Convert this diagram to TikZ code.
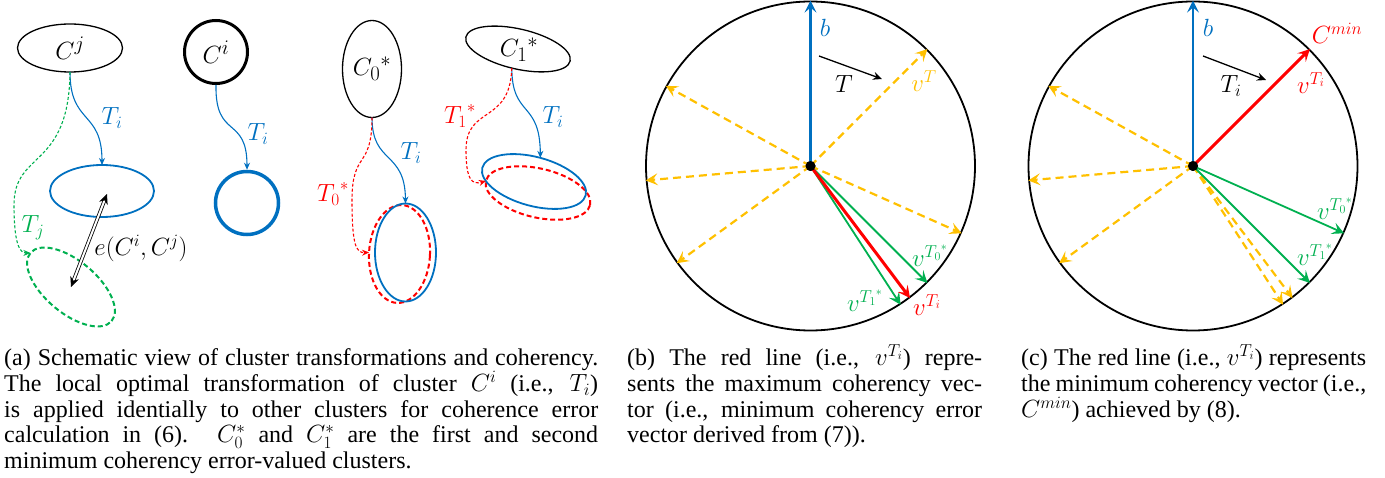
\documentclass[tikz,border=0pt]{standalone}
\usepackage{fontspec}
\setmainfont{Liberation Serif}
\usetikzlibrary{arrows.meta,shapes.geometric,calc}
\definecolor{oblue}{HTML}{0070C0}
\definecolor{ogreen}{HTML}{00B050}
\definecolor{ored}{HTML}{FF0000}
\definecolor{oorange}{HTML}{FFC000}
\newcommand{\captset}{\hyphenpenalty=10000\relax\tolerance=10000\relax}
\begin{document}
\begin{tikzpicture}[x=1pt,y=-1pt,
  ell/.style={draw, ellipse, inner sep=0pt, outer sep=0pt},
  lab/.style={inner sep=0pt, font=\fontsize{23}{23}\selectfont},
  vlab/.style={inner sep=0pt, font=\fontsize{24}{24}\selectfont},
  big/.style={inner sep=0pt, font=\fontsize{31}{31}\selectfont},
  conn/.style={line width=1.1pt, -{Stealth[length=7pt,width=6pt]}},
  dconn/.style={conn, dash pattern=on 3pt off 2pt},
  dell/.style={ell, line width=2pt, dash pattern=on 5pt off 3pt},
  vec/.style={line width=2.2pt, -{Stealth[length=12pt,width=12pt,inset=5pt]}},
  ovec/.style={vec, oorange, dash pattern=on 8pt off 5pt},
  captxt/.style={inner sep=0pt, align=justify, anchor=base west,
    font=\fontsize{24}{25.6}\selectfont}
]
\useasboundingbox (0,0) rectangle (1385,478);

% ---------- panel (a) ----------
\node[ell, big, line width=1.3pt, minimum width=105pt, minimum height=48pt] (cj) at (70,48) {$C^j$};
\node[circle, draw, line width=3pt, minimum size=63pt, inner sep=0pt, big] (ci) at (216,52) {$C^i$};
\node[ell, draw=oblue, line width=1.8pt, minimum width=104pt, minimum height=52pt] (ea) at (102,191) {};
\node[dell, draw=ogreen, minimum width=106pt, minimum height=52pt, rotate=-40] (ga) at (71,287) {};
\node[circle, draw=oblue, line width=3.5pt, minimum size=63pt, inner sep=0pt] (cb) at (247,203) {};

\draw[conn, oblue] (cj.south) .. controls (70,125) and (102,110) .. (ea.north);
\node[lab, text=oblue] (lti1) at (112,118) {$T_i$};
\draw[dconn, ogreen] (cj.south) .. controls (69,170) and (14,150) .. (14,205)
  .. controls (14,245) and (20,253) .. (ga.west);
\node[lab, text=ogreen] (ltj) at (33,228) {$T_j$};
\draw[line width=0.8pt, double, double distance=2pt,
  {Stealth[length=10pt,width=9pt]}-{Stealth[length=10pt,width=9pt]}]
  ([shift={(5,3)}]ea.center) -- (ga.center);
\node[lab] (le) at (141,248) {$e(C^i,C^j)$};

\draw[conn, oblue] (ci.south) .. controls (215,140) and (247,115) .. (cb.north);
\node[lab, text=oblue] (lti2) at (258,134) {$T_i$};

\node[ell, big, line width=1.3pt, minimum width=59pt, minimum height=97pt] (c0) at (372,69) {${C_0}^{*}$};
\node[ell, line width=1.3pt, minimum width=107pt, minimum height=40pt, rotate=-13] (c1) at (518,49) {};
\node[big] (lc1) at (519,50) {${C_1}^{*}$};

\node[dell, draw=ored, minimum width=61pt, minimum height=98pt, rotate=-3] (r0) at (399.5,254) {};
\node[ell, draw=oblue, line width=1.8pt, minimum width=61pt, minimum height=98pt] (e0) at (405.5,252.5) {};
\node[dell, draw=ored, minimum width=107pt, minimum height=49pt, rotate=-13] (r1) at (538,193) {};
\node[ell, draw=oblue, line width=1.8pt, minimum width=107pt, minimum height=49pt, rotate=-15] (e1) at (534,181.5) {};

\draw[conn, oblue] (c0.south) .. controls (372,165) and (405,150) .. (e0.north);
\node[lab, text=oblue] (lti3) at (411,153) {$T_i$};
\draw[dconn, ored] (c0.south) .. controls (372,170) and (352,150) .. (352,200)
  .. controls (352,245) and (356,253) .. (r0.west);
\node[lab, text=ored] (lt0) at (333,194) {${T_0}^{*}$};

\draw[conn, oblue] (c1.265) .. controls (512,118) and (540,100) .. (e1.north);
\node[lab, text=oblue] (lti4) at (553,117) {$T_i$};
\draw[dconn, ored] (c1.265) .. controls (510,125) and (466,105) .. (466,150)
  .. controls (466,180) and (472,185) .. (r1.west);
\node[lab, text=ored] (lt1) at (460,116) {${T_1}^{*}$};

% ---------- panel (b) ----------
\node[circle, draw, line width=1.8pt, minimum size=329pt, inner sep=0pt] (wb) at (810.5,166) {};
\node[circle, fill, inner sep=0pt, minimum size=10pt] (ob) at (810.5,166) {};
\foreach \a in {45,151,185,216,336} \draw[ovec] (ob.center) -- (wb.\a);
\draw[vec, ogreen, line width=1.8pt] (ob.center) -- (wb.315);
\draw[vec, ogreen, line width=1.8pt] (ob.center) -- (wb.303);
\draw[vec, ored, line width=3pt] (ob.center) -- (wb.307);
\draw[vec, oblue] (ob.center) -- (wb.90);
\node[circle, fill, inner sep=0pt, minimum size=10pt] at (ob) {};
\coordinate (tb1) at (819,56);
\coordinate (tb2) at (882,79);
\draw[line width=1.3pt, -{Stealth[length=9pt,width=8pt]}] (tb1) -- (tb2);
\node[vlab, text=oblue] (lb1) at (825,28) {$b$};
\node[vlab] (lT) at (844,84) {$T$};
\node[vlab, text=oorange] (lvT) at (924,81) {$v^T$};
\node[vlab, text=ogreen] (lv0) at (930,256) {$v^{{T_0}^{*}}$};
\node[vlab, text=ogreen] (lv1) at (865,301) {$v^{{T_1}^{*}}$};
\node[vlab, text=ored] (lvi) at (927,305) {$v^{T_i}$};

% ---------- panel (c) ----------
\node[circle, draw, line width=1.8pt, minimum size=329pt, inner sep=0pt] (wc) at (1193,166) {};
\node[circle, fill, inner sep=0pt, minimum size=10pt] (oc) at (1193,166) {};
\foreach \a in {151,185,216,303,307} \draw[ovec] (oc.center) -- (wc.\a);
\draw[vec, ogreen, line width=1.8pt] (oc.center) -- (wc.336);
\draw[vec, ogreen, line width=1.8pt] (oc.center) -- (wc.315);
\draw[vec, ored, line width=3pt] (oc.center) -- (wc.45);
\draw[vec, oblue] (oc.center) -- (wc.90);
\node[circle, fill, inner sep=0pt, minimum size=10pt] at (oc) {};
\coordinate (tc1) at (1203,56);
\coordinate (tc2) at (1266,80);
\draw[line width=1.3pt, -{Stealth[length=9pt,width=8pt]}] (tc1) -- (tc2);
\node[vlab, text=oblue] (lb2) at (1208,28) {$b$};
\node[vlab] (lTi) at (1231,86) {$T_i$};
\node[vlab, text=ored] (lcmin) at (1337,33) {$C^{min}$};
\node[vlab, text=ored] (lvi2) at (1311,83) {$v^{T_i}$};
\node[vlab, text=ogreen] (lv02) at (1335,209) {$v^{{T_0}^{*}}$};
\node[vlab, text=ogreen] (lv12) at (1315,255) {$v^{{T_1}^{*}}$};

% ---------- captions ----------
\node[captxt, text width=594pt] (capa) at (4,366) {\captset (a) Schematic view of cluster transformations and coherency.\linebreak
The local optimal transformation of cluster $C^i$ (i.e., $T_i$)\linebreak
is applied identially to other clusters for coherence error\linebreak
calculation in (6). $C_0^*$ and $C_1^*$ are the first and second\linebreak
minimum coherency error-valued clusters.};
\node[captxt, text width=355pt] (capb) at (627,366) {\captset (b) The red line (i.e., $v^{T_i}$) repre-\linebreak
sents the maximum coherency vec-\linebreak
tor (i.e., minimum coherency error\linebreak
vector derived from (7)).};
\node[captxt, text width=345pt] (capc) at (1021,366) {\captset (c) The red line (i.e., $v^{T_i}$) represents\linebreak
the minimum coherency vector (i.e.,\linebreak
$C^{min}$) achieved by (8).};
\end{tikzpicture}
\end{document}
